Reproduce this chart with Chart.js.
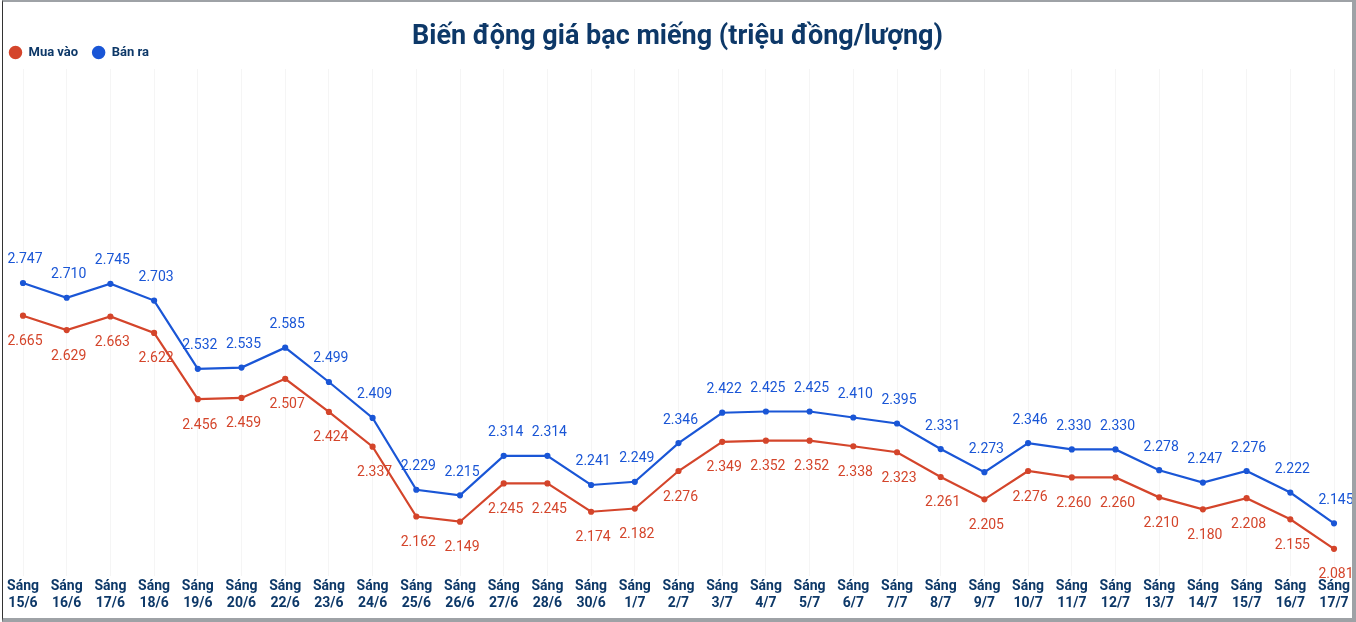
<!DOCTYPE html>
<html lang="vi">
<head>
  <meta charset="UTF-8">
  <title>Biến động giá bạc miếng</title>
  <script src="https://cdn.jsdelivr.net/npm/chart.js"></script>
  <style>
    html,body{margin:0;padding:0;background:#fff;overflow:hidden}
    .khung{position:relative;width:1354px;height:622px;box-sizing:border-box;border-top:2px solid #9ea2a6;border-right:4px solid #9ea2a6;border-bottom:4px solid #9ea2a6;border-left:1px solid #333;margin-left:2px}
    canvas{display:block}
  </style>
</head>
<body>
<div class="khung"><canvas id="bieuDo" width="1349" height="616"></canvas></div>
<script>
// ---- du lieu ----
const ngay = ['15/6','16/6','17/6','18/6','19/6','20/6','22/6','23/6','24/6','25/6','26/6','27/6','28/6','30/6','1/7','2/7','3/7','4/7','5/7','6/7','7/7','8/7','9/7','10/7','11/7','12/7','13/7','14/7','15/7','16/7','17/7'];
const muaVao = [2.665,2.629,2.663,2.622,2.456,2.459,2.507,2.424,2.337,2.162,2.149,2.245,2.245,2.174,2.182,2.276,2.349,2.352,2.352,2.338,2.323,2.261,2.205,2.276,2.260,2.260,2.210,2.180,2.208,2.155,2.081];
const banRa  = [2.747,2.710,2.745,2.703,2.532,2.535,2.585,2.499,2.409,2.229,2.215,2.314,2.314,2.241,2.249,2.346,2.422,2.425,2.425,2.410,2.395,2.331,2.273,2.346,2.330,2.330,2.278,2.247,2.276,2.222,2.145];
const nhan = ngay.map(d => ['Sáng', d]);

const DO = '#d4452b', XANH = '#1a56d6', CHU = '#0d3868';

// ve so lieu tren/duoi diem
const nhanSo = {
  id: 'nhanSo',
  afterDatasetsDraw(chart){
    const ctx = chart.ctx;
    ctx.save();
    ctx.font = '14px Roboto';
    ctx.textAlign = 'center';
    ctx.textBaseline = 'middle';
    chart.data.datasets.forEach((ds, i) => {
      const meta = chart.getDatasetMeta(i);
      ctx.fillStyle = ds.borderColor;
      meta.data.forEach((p, j) => {
        const dy = i === 1 ? -23 : 26;
        ctx.fillText(ds.data[j].toFixed(3), p.x + 2, p.y + dy);
      });
    });
    ctx.restore();
  }
};

// truc an chi de chua le trai/phai
const trucAn = w => ({
  afterFit(s){ s.width = w; },
  ticks: {display: false},
  grid: {display: false},
  border: {display: false}
});

new Chart(document.getElementById('bieuDo'), {
  type: 'line',
  data: {
    labels: nhan,
    datasets: [
      {label: 'Mua vào', data: muaVao, borderColor: DO, backgroundColor: DO, borderWidth: 2.2, pointRadius: 2, tension: 0},
      {label: 'Bán ra', data: banRa, borderColor: XANH, backgroundColor: XANH, borderWidth: 2.2, pointRadius: 2, tension: 0}
    ]
  },
  options: {
    responsive: false,
    animation: false,
    layout: {padding: {left: -8, right: -8, top: 0, bottom: 4}},
    plugins: {
      title: {display: true, text: 'Biến động giá bạc miếng (triệu đồng/lượng)', color: CHU,
        font: {family: 'Roboto', size: 27, weight: 'bold', lineHeight: 1}, padding: {top: 22, bottom: -19}},
      legend: {display: true, align: 'start', labels: {usePointStyle: true, pointStyle: 'circle', boxWidth: 16, boxHeight: 8,
        color: CHU, font: {family: 'Roboto', size: 13, weight: 'bold'}, padding: 14}},
      tooltip: {enabled: false}
    },
    scales: {
      x: {
        grid: {color: '#f5f5f5', drawTicks: false},
        border: {display: false},
        ticks: {color: CHU, font: {family: 'Roboto', size: 14, weight: 'bold'}, maxRotation: 0, autoSkip: false, padding: 2}
      },
      y: Object.assign({min: 2.012, max: 3.283}, trucAn(28)),
      y2: Object.assign({position: 'right', min: 2.012, max: 3.283}, trucAn(26))
    }
  },
  plugins: [nhanSo]
});
</script>
</body>
</html>
